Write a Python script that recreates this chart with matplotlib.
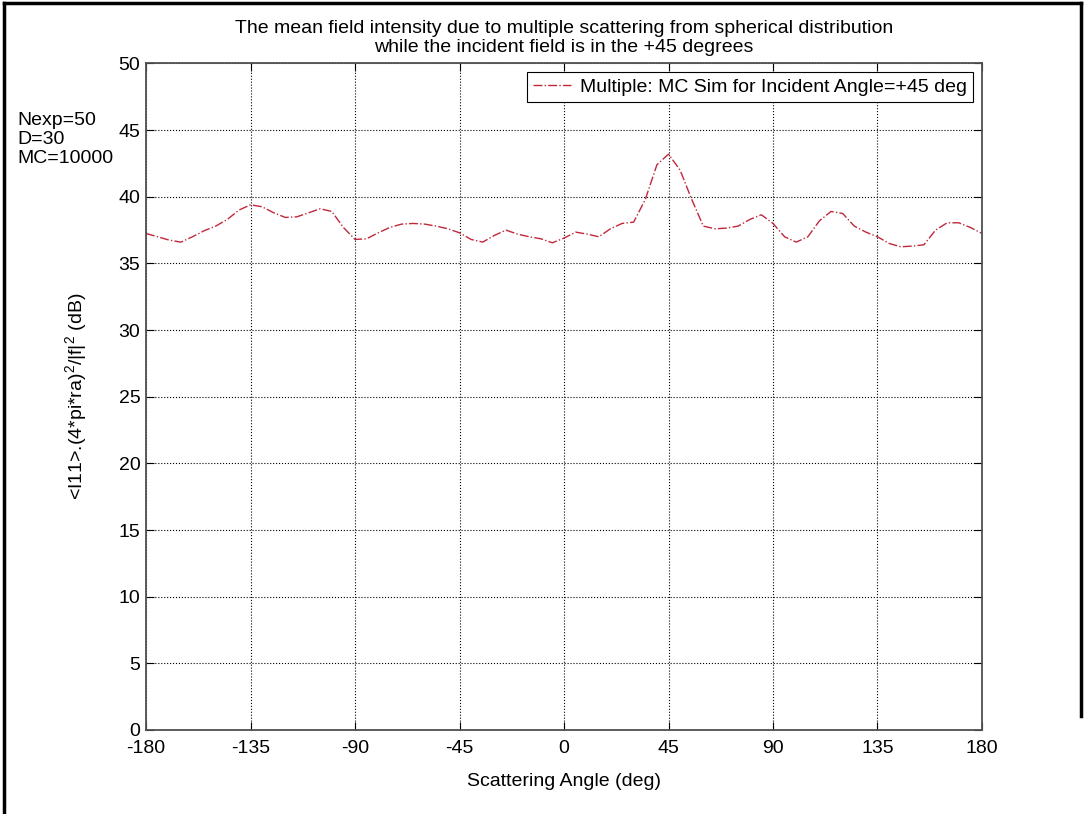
import matplotlib.pyplot as plt
from matplotlib.lines import Line2D

plt.rcParams['font.family'] = ['Liberation Sans', 'DejaVu Sans']
plt.rcParams['mathtext.default'] = 'regular'
plt.rcParams['axes.unicode_minus'] = False

# scattering angle (deg) and mean intensity (dB)
angles = [-180, -175, -170, -165, -160, -155, -150, -145, -140, -135,
          -130, -125, -120, -115, -110, -105, -100, -95, -90, -85,
          -80, -75, -70, -65, -60, -55, -50, -45, -40, -35,
          -30, -25, -20, -15, -10, -5, 0, 5, 10, 15,
          20, 25, 30, 35, 40, 45, 50, 55, 60, 65,
          70, 75, 80, 85, 90, 95, 100, 105, 110, 115,
          120, 125, 130, 135, 140, 145, 150, 155, 160, 165,
          170, 175, 180]
intensity = [37.25, 37.0, 36.75, 36.6, 37.0, 37.45, 37.8, 38.3, 39.0, 39.4,
             39.25, 38.8, 38.45, 38.5, 38.8, 39.1, 38.9, 37.7, 36.8, 36.85,
             37.3, 37.7, 37.95, 38.0, 37.95, 37.8, 37.6, 37.3, 36.8, 36.6,
             37.1, 37.5, 37.2, 37.0, 36.85, 36.55, 36.9, 37.35, 37.2, 37.0,
             37.6, 38.0, 38.1, 39.8, 42.4, 43.2, 42.0, 39.8, 37.8, 37.6,
             37.65, 37.8, 38.3, 38.65, 38.0, 37.0, 36.6, 37.0, 38.2, 38.9,
             38.75, 37.8, 37.35, 37.0, 36.5, 36.25, 36.3, 36.4, 37.5, 38.05,
             38.05, 37.7, 37.25]

xticks = [-180, -135, -90, -45, 0, 45, 90, 135, 180]
yticks = list(range(0, 51, 5))

fs = 14
fig = plt.figure(figsize=(10.84, 8.14), dpi=100)
ax = fig.add_axes([0.1347, 0.1032, 0.7712, 0.8188])

ax.plot(angles, intensity, color='#c0283c', linestyle='-.', linewidth=1.0,
        label='Multiple: MC Sim for Incident Angle=+45 deg')

ax.set_xlim(-180, 180)
ax.set_ylim(0, 50)
ax.set_xticks(xticks)
ax.set_yticks(yticks)
ax.tick_params(direction='in', length=6, width=0.8, top=True, right=True,
               labelsize=fs)
ax.tick_params(axis='x', pad=7)
ax.tick_params(axis='y', pad=4)
ax.grid(True, color='black', linestyle=':', linewidth=0.8)
for s in ax.spines.values():
    s.set_color('#505050')
    s.set_linewidth(1.3)

ax.set_title('The mean field intensity due to multiple scattering from spherical distribution\n'
             'while the incident field is in the +45 degrees', fontsize=fs, pad=8,
             linespacing=1.2)
ax.set_xlabel('Scattering Angle (deg)', fontsize=fs)
ax.xaxis.set_label_coords(0.5, -0.064)
ax.set_ylabel('<I11>.(4*pi*ra)$^2$/|f|$^2$ (dB)', fontsize=fs)
ax.yaxis.set_label_coords(-0.068, 0.5)

leg = ax.legend(loc='upper right', fontsize=fs, fancybox=False, framealpha=1,
                edgecolor='black', borderaxespad=0.45, handlelength=1.95,
                handletextpad=0.5, borderpad=0.3)
leg.get_frame().set_linewidth(0.8)

fig.text(17 / 1084, 1 - 112 / 814, 'Nexp=50\nD=30\nMC=10000', fontsize=fs,
         va='top', ha='left', linespacing=1.15)

# frame around the figure
for xs, ys in [([0.004, 0.004], [0, 0.996]), ([0.004, 0.997], [0.996, 0.996]),
               ([0.997, 0.997], [0.996, 0.12])]:
    fig.add_artist(Line2D(xs, ys, color='black', linewidth=2.5,
                          transform=fig.transFigure))

fig.savefig('out.png', dpi=100)
